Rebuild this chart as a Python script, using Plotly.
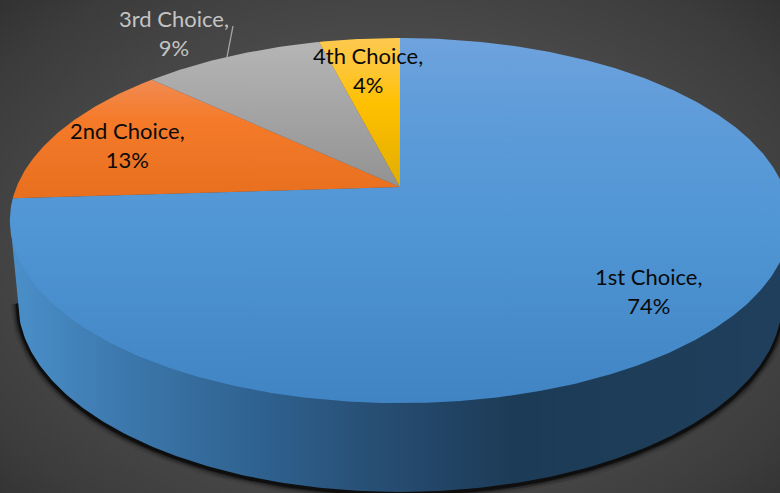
import numpy as np
import plotly.graph_objects as go

# ---- data ----
categories = ["1st Choice", "2nd Choice", "3rd Choice", "4th Choice"]
values = [74, 13, 9, 4]

# ---- style ----
FONT = "Lato"
slice_scales = [
    [[0, "#6ea3de"], [0.2, "#5f9cd9"], [0.5, "#5196d5"], [1, "#4084c4"]],
    [[0, "#f6a06c"], [0.12, "#f08a50"], [0.22, "#f57b2b"], [0.42, "#e8701f"], [1, "#d85f10"]],
    [[0, "#b6b6b6"], [0.41, "#929292"], [1, "#707070"]],
    [[0, "#fdc94f"], [0.1, "#fec52e"], [0.18, "#ffc000"], [0.41, "#e0ad00"], [1, "#b08800"]],
]
side_scale = [[0, "#4c92cd"], [0.15, "#3d79ae"], [0.33, "#2f6290"], [0.5, "#264c71"],
              [0.66, "#1c3b56"], [1, "#1f3f5c"]]
bg_scale = [[0, "#5a5a5a"], [0.45, "#4e4e4e"], [0.8, "#3c3c3c"], [1, "#2c2c2c"]]
label_pos = {"1st Choice": (648, 291), "2nd Choice": (127, 145),
             "3rd Choice": (174, 33), "4th Choice": (368, 70)}
label_col = {"1st Choice": "#0a0a0a", "2nd Choice": "#0a0a0a",
             "3rd Choice": "#c4c4c4", "4th Choice": "#0a0a0a"}

# ---- perspective of the pie's top face ----
CX, APEX_Y, A, B, K = 400.0, 187.0, 383.5, 176.4, 0.1837


def rim(theta):
    w = 1 + K * np.cos(theta)
    return CX + A * np.sin(theta) / w, APEX_Y - B * np.cos(theta) / w


fig = go.Figure()

# background
fig.add_trace(go.Scatter(
    x=[-190, 970, 970, -190, -190], y=[-145, -145, 655, 655, -145], mode="lines",
    line=dict(width=0), fill="toself", hoverinfo="skip",
    fillgradient=dict(type="radial", colorscale=bg_scale)))

# pie side + soft shadow under it
ph = np.linspace(0, np.pi, 240)
bx = CX - 382 * np.cos(ph)
by = 302 + 190 * np.sin(ph)
for w_, op in [(16, 0.07), (12, 0.12), (9, 0.2), (6, 0.32), (4, 0.5)]:
    fig.add_trace(go.Scatter(x=bx, y=by + 1.5, mode="lines", hoverinfo="skip",
                             line=dict(color=f"rgba(0,0,0,{op})", width=w_)))
ex = np.r_[10, bx, 790, 10]
ey = np.r_[220, by, 220, 220]
fig.add_trace(go.Scatter(
    x=ex, y=ey, mode="lines", line=dict(width=0), fill="toself", hoverinfo="skip",
    fillgradient=dict(type="horizontal", colorscale=side_scale, start=0, stop=780)))

# top face slices, clockwise from 12 o'clock
total = sum(values)
cum = 0.0
for cat, val, scale in zip(categories, values, slice_scales):
    t0 = 2 * np.pi * cum / total
    cum += val
    t1 = 2 * np.pi * cum / total
    th = np.linspace(t0, t1, max(int(val * 6), 12))
    rx, ry = rim(th)
    fig.add_trace(go.Scatter(
        x=np.r_[CX, rx, CX], y=np.r_[APEX_Y, ry, APEX_Y], mode="lines",
        line=dict(width=0), fill="toself", name=cat, hoverinfo="skip",
        fillgradient=dict(type="vertical", colorscale=scale, start=38, stop=403)))

# leader line of the third label
fig.add_trace(go.Scatter(x=[227, 233], y=[57, 26], mode="lines", hoverinfo="skip",
                         line=dict(color="#a8a8a8", width=1.3)))

for cat, val in zip(categories, values):
    lx, ly = label_pos[cat]
    fig.add_annotation(x=lx, y=ly, text=f"{cat},<br>{val}%", showarrow=False,
                       xanchor="center", yanchor="middle", align="center",
                       font=dict(family=FONT, size=22, color=label_col[cat]))

fig.update_layout(
    width=780, height=493, margin=dict(l=0, r=0, t=0, b=0), showlegend=False,
    paper_bgcolor="#3f3f3f", plot_bgcolor="#3f3f3f",
    xaxis=dict(range=[0, 780], visible=False, fixedrange=True),
    yaxis=dict(range=[493, 0], visible=False, fixedrange=True),
)
fig.write_html("out.html", config={"displayModeBar": False},
               post_script="document.body.style.margin='0';document.body.style.overflow='hidden';")
